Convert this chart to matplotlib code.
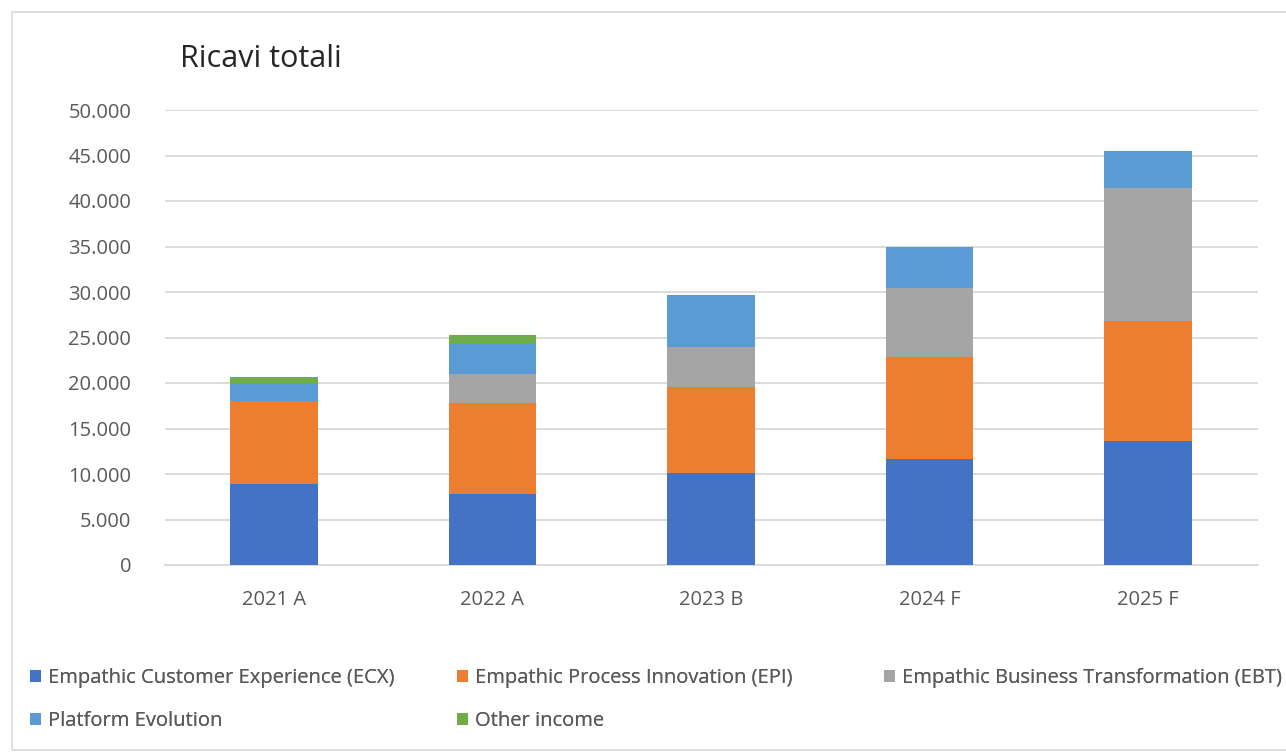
import numpy as np
import matplotlib
matplotlib.use('Agg')
import matplotlib.pyplot as plt
from matplotlib.patches import Rectangle, Patch
from matplotlib.ticker import FuncFormatter

##------------data-----------------##
years = ['2021 A', '2022 A', '2023 B', '2024 F', '2025 F']
ecx = [8860, 7760, 10140, 11650, 13630]
epi = [9160, 10000, 9460, 11170, 13180]
ebt = [0, 3190, 4390, 7580, 14580]
platform = [1940, 3480, 5680, 4510, 4100]
other = [730, 810, 0, 0, 0]

series = [
	('Empathic Customer Experience (ECX)', ecx, '#4472C4'),
	('Empathic Process Innovation (EPI)', epi, '#ED7D31'),
	('Empathic Business Transformation (EBT)', ebt, '#A5A5A5'),
	('Platform Evolution', platform, '#5B9BD5'),
	('Other income', other, '#70AD47'),
]

plt.rcParams['font.family'] = ['Open Sans', 'DejaVu Sans']
txt_col = '#595959'
grid_col = '#d9d9d9'

##------------figure-----------------##
fig = plt.figure(figsize=(12.86, 7.56), dpi=100)
fig.patch.set_facecolor('white')
fig.add_artist(Rectangle((12/1286, 6/756), 1.0, 1 - 18/756, transform=fig.transFigure,
	fill=False, edgecolor=grid_col, linewidth=1.2))

ax = fig.add_axes([164.5/1286, 1 - 565/756, 1093/1286, 455/756])

x = np.arange(len(years))
bottom = np.zeros(len(years))
handles = []
for name, vals, col in series:
	vals = np.array(vals, dtype=float)
	ax.bar(x, vals, width=0.4, bottom=bottom, color=col, zorder=3)
	bottom += vals
	handles.append(Patch(facecolor=col, label=name))

ax.set_xlim(-0.5, len(years) - 0.5)
ax.set_ylim(0, 50000)
ax.set_yticks(np.arange(0, 50001, 5000))
ax.yaxis.set_major_formatter(FuncFormatter(lambda v, p: '0' if v == 0 else f'{int(v):,}'.replace(',', '.')))
ax.set_xticks(x)
ax.set_xticklabels(years)
ax.grid(axis='y', color=grid_col, linewidth=1.3, zorder=0)
for s in ['top', 'right', 'left']:
	ax.spines[s].set_visible(False)
ax.spines['bottom'].set_color(grid_col)
ax.spines['bottom'].set_linewidth(1.3)
ax.tick_params(axis='both', length=0, labelsize=14.5, labelcolor=txt_col)
ax.tick_params(axis='y', pad=24)
ax.tick_params(axis='x', pad=18)

fig.text(180/1286, 1 - 59/756, 'Ricavi totali', fontsize=22, color='#262626', va='center')

# legend: three columns of equal width like Excel
groups = [[0, 3], [1, 4], [2]]
xs = [22, 449, 876]
for gx, g in zip(xs, groups):
	leg = fig.legend([handles[i] for i in g], [handles[i].get_label() for i in g],
		loc='upper left', bbox_to_anchor=(gx/1286, 1 - 660/756), frameon=False,
		fontsize=14.5, labelcolor=txt_col, handlelength=0.55, handleheight=0.55,
		handletextpad=0.35, labelspacing=1.15, borderaxespad=0)
	fig.add_artist(leg)

fig.savefig('out.png', dpi=100)
